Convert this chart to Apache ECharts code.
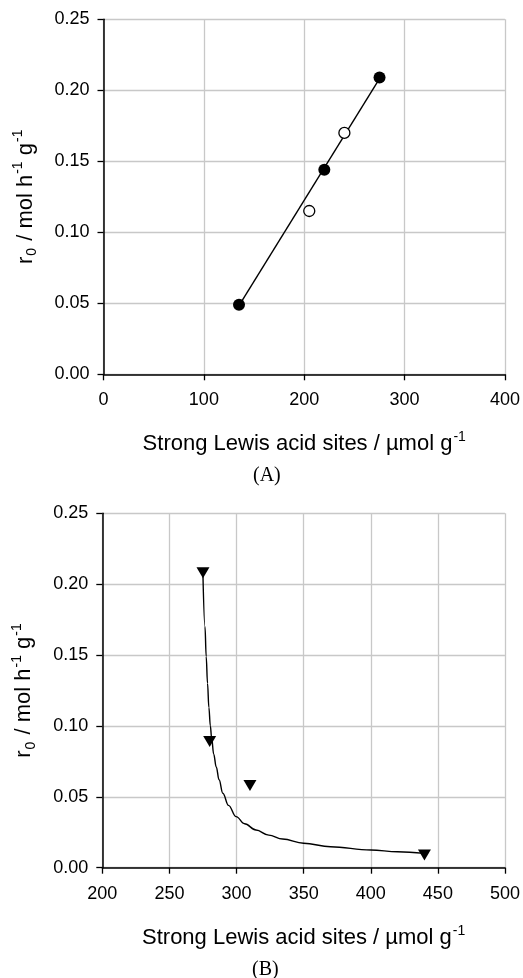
<!DOCTYPE html>
<html><head><meta charset="utf-8">
<script src="https://cdn.jsdelivr.net/npm/echarts@6/dist/echarts.min.js"></script>
<style>html,body{margin:0;padding:0;background:#fff}#c{width:523px;height:978px}</style>
</head><body><div id="c"></div>
<script>
// Panel A data
const aFilled = [[135, 0.049], [220, 0.144], [275, 0.209]];
const aOpen = [[205, 0.115], [240, 0.170]];
const aFit = [[135, 0.0484], [275, 0.2082]];
// Panel B data
const bPoints = [[275, 0.208], [280, 0.089], [310, 0.058], [440, 0.009]];
const bCurve = [[275, 0.206], [276.5, 0.17], [277.4, 0.149], [278.4, 0.13], [279.4, 0.113], [280.5, 0.100],
  [281.4, 0.092], [283, 0.080], [284.9, 0.071], [287, 0.062], [289.8, 0.0525], [294, 0.044], [299.7, 0.036],
  [306, 0.031], [314.5, 0.0266], [324, 0.023], [334.3, 0.0202], [350, 0.0172], [370, 0.0148], [400, 0.0125],
  [420, 0.0112], [440, 0.0101]];
// axis ranges
const aX = {min: 0, max: 400, interval: 100};
const bX = {min: 200, max: 500, interval: 50};
const yR = {min: 0, max: 0.25, interval: 0.05};
const xTitle = '{a|Strong Lewis acid sites / \u00b5mol g}{sup|-1}';
const yTitle = '{a|r}{sub|0}{a| / mol h}{sup|-1}{a| g}{sup|-1}';

const FONT = 'Liberation Sans, Arial, sans-serif';
const rich = {
  a: {fontSize: 22, fontFamily: FONT, color: '#000', lineHeight: 28},
  sup: {fontSize: 14, fontFamily: FONT, color: '#000', verticalAlign: 'top', lineHeight: 14, padding: [0, 0, 0, 1]},
  sub: {fontSize: 14, fontFamily: FONT, color: '#000', verticalAlign: 'bottom', lineHeight: 14, padding: [0, 1, 0, 1]}
};
const axisCommon = {
  axisLine: {onZero: false, lineStyle: {color: '#000', width: 1.5}},
  axisTick: {inside: false, length: 6, lineStyle: {color: '#000', width: 1.3}},
  splitLine: {show: true, lineStyle: {color: '#c8c8c8', width: 1.3}},
  axisLabel: {color: '#000', fontSize: 18, fontFamily: FONT}
};
function xAxis(idx, r, gap) {
  return Object.assign({}, axisCommon, {
    type: 'value', gridIndex: idx, min: r.min, max: r.max, interval: r.interval,
    name: xTitle, nameLocation: 'middle', nameGap: gap, nameTextStyle: {rich: rich},
    axisLabel: Object.assign({}, axisCommon.axisLabel, {margin: 17})
  });
}
function yAxis(idx) {
  return Object.assign({}, axisCommon, {
    type: 'value', gridIndex: idx, min: yR.min, max: yR.max, interval: yR.interval,
    name: yTitle, nameLocation: 'middle', nameGap: 64, nameRotate: 90, nameTextStyle: {rich: rich},
    axisLabel: Object.assign({}, axisCommon.axisLabel, {margin: 14, formatter: v => v.toFixed(2)})
  });
}
const chart = echarts.init(document.getElementById('c'));
chart.setOption({
  animation: false,
  backgroundColor: '#fff',
  grid: [
    {left: 103.5, top: 19.3, width: 404.2, height: 355},
    {left: 102.3, top: 513.3, width: 404.4, height: 354.4}
  ],
  xAxis: [xAxis(0, aX, 56), xAxis(1, bX, 56)],
  yAxis: [yAxis(0), yAxis(1)],
  graphic: [
    {type: 'text', left: 253, top: 466, style: {text: '(A)', font: '20px "Liberation Serif", serif', fill: '#000'}},
    {type: 'text', left: 252, top: 960, style: {text: '(B)', font: '20px "Liberation Serif", serif', fill: '#000'}}
  ],
  series: [
    {type: 'line', xAxisIndex: 0, yAxisIndex: 0, data: aFit, symbol: 'none', lineStyle: {color: '#000', width: 1.4}, z: 2},
    {type: 'scatter', xAxisIndex: 0, yAxisIndex: 0, data: aFilled, symbol: 'circle', symbolSize: 12,
      itemStyle: {color: '#000', opacity: 1}, z: 3},
    {type: 'scatter', xAxisIndex: 0, yAxisIndex: 0, data: aOpen, symbol: 'circle', symbolSize: 11,
      itemStyle: {color: '#fff', borderColor: '#000', borderWidth: 1.3, opacity: 1}, z: 3},
    {type: 'line', xAxisIndex: 1, yAxisIndex: 1, data: bCurve, symbol: 'none', smooth: 0.4, smoothMonotone: 'x',
      lineStyle: {color: '#000', width: 1.4}, z: 2},
    {type: 'scatter', xAxisIndex: 1, yAxisIndex: 1, data: bPoints, symbol: 'triangle', symbolRotate: 180,
      symbolSize: [13, 11], itemStyle: {color: '#000', opacity: 1}, z: 3}
  ]
});
</script></body></html>
